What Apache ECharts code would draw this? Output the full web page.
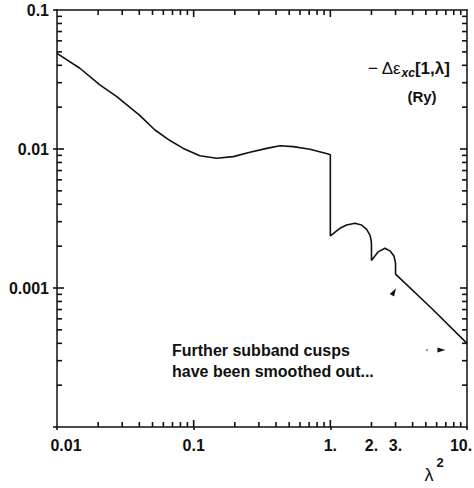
<!DOCTYPE html>
<html>
<head>
<meta charset="utf-8">
<script src="https://cdn.jsdelivr.net/npm/echarts@6/dist/echarts.min.js"></script>
<style>
  html, body { margin: 0; padding: 0; background: #fff; }
  #chart { width: 474px; height: 488px; }
</style>
</head>
<body>
<div id="chart"></div>
<script>
// λ² (coupling squared) and −Δε_xc[1,λ] in Ry
const lambda2 = [0.01, 0.0147, 0.0207, 0.0274, 0.0405, 0.0521, 0.0671, 0.084, 0.111, 0.147,
  0.195, 0.258, 0.342, 0.428, 0.536, 0.71, 0.965, 1, 1, 1.175, 1.315, 1.514, 1.693, 1.844,
  1.95, 1.99, 2, 2, 2.24, 2.51, 2.73, 2.92, 3, 3, 5.5, 10];
const deltaExc = [0.0488, 0.0381, 0.0288, 0.0238, 0.0174, 0.0137, 0.0115, 0.0101, 0.00895, 0.00857,
  0.00881, 0.00947, 0.0101, 0.01056, 0.0104, 0.00996, 0.0092, 0.0091, 0.00237, 0.00269, 0.00284,
  0.00292, 0.00284, 0.00264, 0.0024, 0.0022, 0.00205, 0.00158, 0.00182, 0.00193, 0.00185, 0.0017,
  0.00151, 0.00126, 0.000715, 0.0004];

// axis ranges and ticks
const X_RANGE = [0.01, 10];
const Y_RANGE = [0.0001, 0.1];
const xTickValues = [0.01, 0.1, 1, 2, 3, 10];
const xTickLabels = ['0.01', '0.1', '1.', '2.', '3.', '10.'];
const yTickValues = [0.001, 0.01, 0.1];
const yTickLabels = ['0.001', '0.01', '0.1'];
const xMajorTicks = [0.1, 1];
const yMajorTicks = [0.001, 0.01];
const xMinorTicks = [0.02, 0.03, 0.04, 0.05, 0.06, 0.07, 0.08, 0.09,
  0.2, 0.3, 0.4, 0.5, 0.6, 0.7, 0.8, 0.9, 2, 3, 4, 5, 6, 7, 8, 9];
const yMinorTicks = [0.0002, 0.0003, 0.0004, 0.0005, 0.0006, 0.0007, 0.0008, 0.0009,
  0.002, 0.003, 0.004, 0.005, 0.006, 0.007, 0.008, 0.009,
  0.02, 0.03, 0.04, 0.05, 0.06, 0.07, 0.08, 0.09];

// small arrowheads and a dot near the annotation
const arrowX = [2.92, 6.5];
const arrowY = [0.00094, 0.000358];
const arrowRotate = [-30, -90];
const dotX = [5.09];
const dotY = [0.000358];

const INK = '#111';
const FONT_FAMILY = '"Liberation Sans", Arial, sans-serif';
const TICK_FONT = 'bold 16px ' + FONT_FAMILY;
const TICK_WIDTH = 1.6;

function near(a, b) { return Math.abs(Math.log10(a) - Math.log10(b)) < 1e-6; }
function labelFor(values, labels, v) {
  for (let i = 0; i < values.length; i++) if (near(values[i], v)) return labels[i];
  return '';
}
function isDecade(v) { return Math.abs(Math.log10(v) - Math.round(Math.log10(v))) < 1e-9; }

// inward tick marks along one side of the frame ('bottom', 'top', 'left', 'right')
function tickSeries(values, side, len) {
  const horizontal = side === 'bottom' || side === 'top';
  return {
    type: 'custom',
    silent: true,
    animation: false,
    data: values.map(v => horizontal
      ? [v, side === 'bottom' ? Y_RANGE[0] : Y_RANGE[1]]
      : [side === 'left' ? X_RANGE[0] : X_RANGE[1], v]),
    renderItem(params, api) {
      const p = api.coord([api.value(0), api.value(1)]);
      let shape;
      if (side === 'bottom') shape = { x1: p[0], y1: p[1], x2: p[0], y2: p[1] - len };
      else if (side === 'top') shape = { x1: p[0], y1: p[1], x2: p[0], y2: p[1] + len };
      else if (side === 'left') shape = { x1: p[0], y1: p[1], x2: p[0] + len, y2: p[1] };
      else shape = { x1: p[0], y1: p[1], x2: p[0] - len, y2: p[1] };
      return {
        type: 'line',
        shape: shape,
        style: { stroke: INK, lineWidth: TICK_WIDTH }
      };
    }
  };
}

// bottom-axis labels that are not at decades (2., 3.)
const extraXLabels = xTickValues.filter(v => !isDecade(v));
const extraLabelSeries = {
  type: 'custom',
  silent: true,
  animation: false,
  data: extraXLabels.map(v => [v, Y_RANGE[0]]),
  renderItem(params, api) {
    const v = api.value(0);
    const p = api.coord([v, Y_RANGE[0]]);
    return {
      type: 'text',
      x: p[0],
      y: p[1] + 10,
      style: {
        text: labelFor(xTickValues, xTickLabels, v),
        font: TICK_FONT,
        fill: INK,
        align: 'center',
        verticalAlign: 'top'
      }
    };
  }
};

const frameAxis = (extra) => Object.assign({
  type: 'log',
  logBase: 10,
  axisLine: { show: true, lineStyle: { color: INK, width: 1.5 } },
  splitLine: { show: false },
  minorTick: { show: false },
  minorSplitLine: { show: false }
}, extra);

const chart = echarts.init(document.getElementById('chart'), null, { renderer: 'svg' });

chart.setOption({
  backgroundColor: '#fff',
  animation: false,
  grid: { left: 57, right: 7, top: 10, bottom: 61, containLabel: false, outerBoundsMode: 'none' },
  xAxis: [
    frameAxis({
      position: 'bottom',
      min: X_RANGE[0], max: X_RANGE[1],
      axisTick: { show: true, inside: false, length: 3, lineStyle: { color: INK, width: TICK_WIDTH } },
      axisLabel: {
        margin: 10,
        color: INK,
        fontWeight: 'bold', fontSize: 16, fontFamily: FONT_FAMILY,
        formatter(v) {
          const t = labelFor(xTickValues, xTickLabels, v);
          if (near(v, X_RANGE[0])) return '{first|' + t + '}';
          if (near(v, X_RANGE[1])) return '{last|' + t + '}';
          return t;
        },
        rich: {
          first: { fontWeight: 'bold', fontSize: 16, fontFamily: FONT_FAMILY, color: INK, padding: [0, 0, 0, 18] },
          last: { fontWeight: 'bold', fontSize: 16, fontFamily: FONT_FAMILY, color: INK, padding: [0, 12, 0, 0] }
        }
      }
    }),
    frameAxis({
      position: 'top',
      min: X_RANGE[0], max: X_RANGE[1],
      axisTick: { show: false },
      axisLabel: { show: false }
    })
  ],
  yAxis: [
    frameAxis({
      position: 'left',
      min: Y_RANGE[0], max: Y_RANGE[1],
      axisTick: { show: true, inside: false, length: 4, lineStyle: { color: INK, width: TICK_WIDTH } },
      axisLabel: {
        margin: 8,
        color: INK,
        fontWeight: 'bold', fontSize: 16, fontFamily: FONT_FAMILY,
        formatter(v) { return labelFor(yTickValues, yTickLabels, v); }
      }
    }),
    frameAxis({
      position: 'right',
      min: Y_RANGE[0], max: Y_RANGE[1],
      axisTick: { show: false },
      axisLabel: { show: false }
    })
  ],
  series: [
    {
      name: '-Δε_xc[1,λ]',
      type: 'line',
      data: lambda2.map((x, i) => [x, deltaExc[i]]),
      symbol: 'none',
      showSymbol: false,
      smooth: false,
      lineStyle: { color: INK, width: 1.6 },
      z: 3,
      markPoint: {
        silent: true,
        label: { show: false },
        data: arrowX.map((x, i) => ({
          coord: [x, arrowY[i]],
          symbol: 'triangle',
          symbolSize: [5, 8],
          symbolRotate: arrowRotate[i],
          itemStyle: { color: INK }
        })).concat(dotX.map((x, i) => ({
          coord: [x, dotY[i]],
          symbol: 'circle',
          symbolSize: 2,
          itemStyle: { color: '#888' }
        })))
      }
    },
    tickSeries(xMinorTicks, 'bottom', 5),
    tickSeries(xMinorTicks, 'top', 5),
    tickSeries(xMajorTicks, 'bottom', 7),
    tickSeries(xMajorTicks, 'top', 7),
    tickSeries(yMinorTicks, 'left', 5),
    tickSeries(yMinorTicks, 'right', 5),
    tickSeries(yMajorTicks, 'left', 7),
    tickSeries(yMajorTicks, 'right', 7),
    extraLabelSeries
  ],
  graphic: [
    {
      type: 'text',
      x: 368, y: 68,
      style: {
        text: '{n|− Δε}{s|xc}{b|[1,λ]}',
        align: 'left',
        verticalAlign: 'middle',
        fill: INK,
        rich: {
          n: { font: '17px ' + FONT_FAMILY, fill: INK },
          s: { font: 'italic bold 12px ' + FONT_FAMILY, fill: INK, padding: [10, 0, 0, 0] },
          b: { font: 'bold 17px ' + FONT_FAMILY, fill: INK }
        }
      }
    },
    {
      type: 'text',
      x: 422, y: 96,
      style: {
        text: '(Ry)',
        font: 'bold 15px ' + FONT_FAMILY,
        fill: INK,
        align: 'center',
        verticalAlign: 'middle'
      }
    },
    {
      type: 'text',
      x: 172, y: 360.5,
      style: {
        text: 'Further subband cusps\nhave been smoothed out...',
        font: 'bold 16px ' + FONT_FAMILY,
        lineHeight: 21,
        fill: INK,
        align: 'left',
        verticalAlign: 'middle'
      }
    },
    {
      type: 'text',
      x: 429, y: 475,
      style: {
        text: 'λ',
        font: '18px ' + FONT_FAMILY,
        fill: INK,
        align: 'center',
        verticalAlign: 'middle'
      }
    },
    {
      type: 'text',
      x: 440, y: 462,
      style: {
        text: '2',
        font: 'bold 13px ' + FONT_FAMILY,
        fill: INK,
        align: 'center',
        verticalAlign: 'middle'
      }
    }
  ]
});
</script>
</body>
</html>
